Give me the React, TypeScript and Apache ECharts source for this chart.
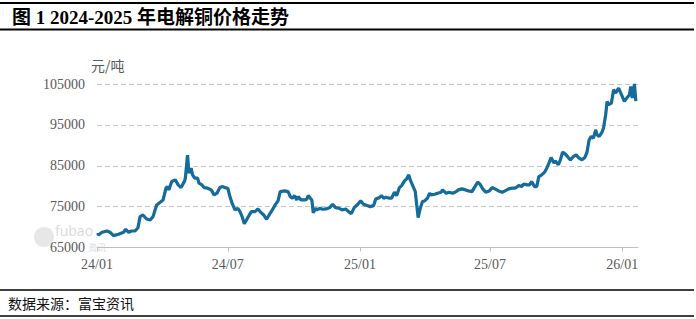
import React, { useEffect, useRef } from "react";
import * as echarts from "echarts";

const dates = [
  "2024-01-02","2024-01-03","2024-01-08","2024-01-15","2024-01-19","2024-01-24","2024-01-31","2024-02-07","2024-02-10","2024-02-14",
  "2024-02-18","2024-02-23","2024-02-27","2024-03-01","2024-03-05","2024-03-10","2024-03-15","2024-03-19","2024-03-24","2024-03-29",
  "2024-04-02","2024-04-06","2024-04-08","2024-04-10","2024-04-14","2024-04-19","2024-04-23","2024-04-27","2024-05-02","2024-05-03",
  "2024-05-06","2024-05-08","2024-05-11","2024-05-13","2024-05-16","2024-05-20","2024-05-22","2024-05-26","2024-05-29","2024-06-03",
  "2024-06-08","2024-06-12","2024-06-16","2024-06-20","2024-06-24","2024-06-27","2024-07-01","2024-07-04","2024-07-07","2024-07-11",
  "2024-07-15","2024-07-18","2024-07-21","2024-07-24","2024-07-27","2024-07-31","2024-08-03","2024-08-08","2024-08-12","2024-08-15",
  "2024-08-20","2024-08-24","2024-08-29","2024-09-01","2024-09-05","2024-09-09","2024-09-12","2024-09-18","2024-09-23","2024-09-26",
  "2024-09-29","2024-10-02","2024-10-05","2024-10-07","2024-10-11","2024-10-16","2024-10-19","2024-10-21","2024-10-24","2024-10-26",
  "2024-10-28","2024-10-31","2024-11-02","2024-11-06","2024-11-10","2024-11-15","2024-11-20","2024-11-24","2024-11-28","2024-12-03",
  "2024-12-07","2024-12-12","2024-12-16","2024-12-20","2024-12-24","2024-12-29","2025-01-02","2025-01-06","2025-01-11","2025-01-15",
  "2025-01-20","2025-01-23","2025-01-28","2025-01-31","2025-02-03","2025-02-06","2025-02-11","2025-02-14","2025-02-18","2025-02-21",
  "2025-02-25","2025-02-28","2025-03-04","2025-03-07","2025-03-10","2025-03-12","2025-03-15","2025-03-19","2025-03-21","2025-03-23",
  "2025-03-26","2025-03-29","2025-04-01","2025-04-05","2025-04-08","2025-04-10","2025-04-15","2025-04-19","2025-04-24","2025-04-26",
  "2025-05-01","2025-05-05","2025-05-10","2025-05-15","2025-05-18","2025-05-23","2025-05-28","2025-06-01","2025-06-06","2025-06-10",
  "2025-06-14","2025-06-17","2025-06-21","2025-06-25","2025-06-30","2025-07-04","2025-07-08","2025-07-13","2025-07-18","2025-07-22",
  "2025-07-27","2025-08-01","2025-08-05","2025-08-10","2025-08-14","2025-08-17","2025-08-22","2025-08-25","2025-08-28","2025-09-01",
  "2025-09-04","2025-09-07","2025-09-11","2025-09-15","2025-09-18","2025-09-21","2025-09-24","2025-09-28","2025-09-30","2025-10-04",
  "2025-10-07","2025-10-10","2025-10-14","2025-10-18","2025-10-21","2025-10-25","2025-10-29","2025-11-01","2025-11-06","2025-11-10",
  "2025-11-13","2025-11-16","2025-11-19","2025-11-22","2025-11-25","2025-11-27","2025-11-30","2025-12-04","2025-12-06","2025-12-09",
  "2025-12-11","2025-12-13","2025-12-17","2025-12-20","2025-12-23","2025-12-27","2025-12-31","2026-01-04","2026-01-08","2026-01-11",
  "2026-01-13","2026-01-15","2026-01-17","2026-01-18","2026-01-20",
];

const prices = [
  68550,68060,68720,69040,68720,67900,68230,68720,69460,68720,
  69040,69040,69850,72550,72960,71980,71740,72550,75420,76080,
  76640,79510,79900,79090,81130,81540,80320,79660,81300,82000,
  87600,83190,84410,82770,81960,81960,80730,80320,79660,79510,
  79090,77870,78280,79660,79900,79660,79510,77450,75830,74190,
  74600,73780,72550,70800,71740,72960,73780,73780,74440,73780,
  72960,71900,73370,74190,75420,76400,78680,78850,78680,77450,
  77060,77700,76640,77450,76640,76640,76810,77700,77060,76640,
  73500,74600,74190,74600,74360,74440,74760,75590,74760,74600,
  74190,74440,73780,73300,74760,75590,76400,75590,75250,75000,
  75250,76890,77200,77700,77060,77300,77060,77060,78530,77700,
  79660,80150,81300,81790,82770,81540,80320,78680,75420,72300,
  74600,76230,76400,77060,78280,77870,78040,78280,78530,79090,
  78280,78530,78280,78680,79090,79340,79090,78850,78680,79900,
  80980,80490,79340,78530,78850,79660,79340,78850,78530,78850,
  79340,79510,79510,80150,79900,80490,80320,80320,81130,79900,
  79900,82350,82770,83430,84410,85640,87010,85640,86200,85220,
  86450,88330,87840,87010,86450,87250,87670,87010,86450,87010,
  88330,91350,92160,91760,93800,92570,92160,93240,94220,97480,
  100740,99930,100340,103600,102790,104020,102380,100740,101720,102380,
  104410,101570,103190,105000,100800,
];

const tickDates = ["2024-01-01", "2024-07-01", "2025-01-01", "2025-07-01", "2026-01-01"];
const tickLabels = ["24/01", "24/07", "25/01", "25/07", "26/01"];
const yTicks = [65000, 75000, 85000, 95000, 105000];

const titleText = "图 1 2024-2025 年电解铜价格走势";
const unitText = "元/吨";
const sourceText = "数据来源：富宝资讯";

export default function App() {
  const ref = useRef<HTMLDivElement>(null);
  useEffect(() => {
    if (!ref.current) return;
    const chart = echarts.init(ref.current, undefined, { renderer: "svg" });
    const tickTs = tickDates.map((d) => Date.parse(d));
    const data = dates.map((d, i) => [Date.parse(d), prices[i]]);
    const gray = "#595959";
    chart.setOption({
      animation: false,
      backgroundColor: "#ffffff",
      grid: { left: 97, right: 58, top: 84, bottom: 71.5, containLabel: false },
      xAxis: {
        type: "value",
        min: Date.parse("2024-01-01"),
        max: Date.parse("2026-01-23"),
        axisLine: { show: true, lineStyle: { color: "#bfbfbf", width: 1 } },
        axisTick: { show: true, length: 4, customValues: tickTs, lineStyle: { color: "#bfbfbf" } },
        splitLine: { show: false },
        axisLabel: {
          customValues: tickTs,
          margin: 10,
          color: gray,
          fontSize: 14,
          fontFamily: "'Liberation Serif', serif",
          formatter: (v: number) => {
            const i = tickTs.indexOf(v);
            return i >= 0 ? tickLabels[i] : "";
          },
        },
      },
      yAxis: {
        type: "value",
        min: yTicks[0],
        max: yTicks[yTicks.length - 1],
        interval: 10000,
        axisLine: { show: false },
        axisTick: { show: false },
        splitLine: { show: true, lineStyle: { color: "#c6c6c6", type: [5, 3], width: 1 } },
        axisLabel: {
          margin: 12,
          color: gray,
          fontSize: 14,
          fontFamily: "'Liberation Serif', serif",
          formatter: (v: number) => String(v),
        },
      },
      series: [
        {
          type: "line",
          data,
          showSymbol: false,
          symbol: "none",
          lineStyle: { color: "#156b99", width: 3.2 },
          z: 5,
        },
      ],
      graphic: [
        { type: "line", shape: { x1: 0, y1: 3, x2: 694, y2: 3 }, style: { stroke: "#000", lineWidth: 2 } },
        { type: "line", shape: { x1: 0, y1: 29.5, x2: 694, y2: 29.5 }, style: { stroke: "#000", lineWidth: 2 } },
        {
          type: "text",
          x: 12,
          y: 17,
          style: {
            text: titleText,
            fill: "#000",
            font: "bold 19px 'Liberation Serif', 'Noto Sans CJK SC', serif",
            textVerticalAlign: "middle",
          },
        },
        {
          type: "text",
          x: 91,
          y: 65,
          style: {
            text: unitText,
            fill: gray,
            font: "14px 'Noto Sans CJK SC', sans-serif",
            textVerticalAlign: "middle",
          },
        },
        { type: "circle", shape: { cx: 44, cy: 237, r: 10 }, style: { fill: "#d4d4d4", opacity: 0.55 }, z: -1 },
        {
          type: "text",
          x: 55,
          y: 230,
          z: -1,
          style: {
            text: "fubao",
            fill: "#d0d0d0",
            opacity: 0.8,
            font: "14px 'Open Sans', sans-serif",
            textVerticalAlign: "middle",
          },
        },
        {
          type: "text",
          x: 88,
          y: 247,
          z: -1,
          style: {
            text: "资讯",
            fill: "#d0d0d0",
            opacity: 0.8,
            font: "9px 'Noto Sans CJK SC', sans-serif",
            textVerticalAlign: "middle",
          },
        },
        { type: "line", shape: { x1: 0, y1: 290, x2: 694, y2: 290 }, style: { stroke: "#000", lineWidth: 1.5 } },
        { type: "line", shape: { x1: 0, y1: 316, x2: 694, y2: 316 }, style: { stroke: "#000", lineWidth: 1.5 } },
        {
          type: "text",
          x: 8,
          y: 303,
          style: {
            text: sourceText,
            fill: "#111",
            font: "14px 'Noto Sans CJK SC', sans-serif",
            textVerticalAlign: "middle",
          },
        },
      ],
    });
    return () => chart.dispose();
  }, []);
  return (
    <div
      ref={ref}
      style={{ position: "absolute", left: 0, top: 0, width: 696, height: 319, background: "#fff" }}
    />
  );
}
